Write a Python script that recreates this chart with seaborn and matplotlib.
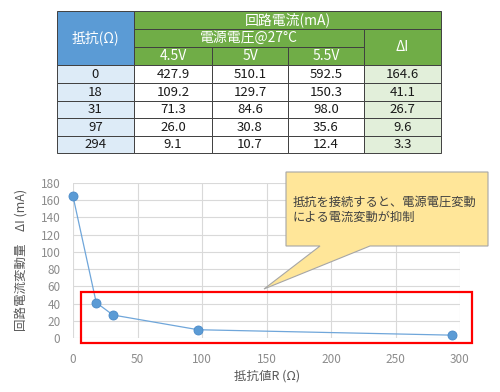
import matplotlib
matplotlib.use("Agg")
import matplotlib.pyplot as plt
from matplotlib.patches import Rectangle, Polygon
import seaborn as sns
import pandas as pd

# ---- data ----
resistance = [0, 18, 31, 97, 294]
i_45v = [427.9, 109.2, 71.3, 26.0, 9.1]
i_5v = [510.1, 129.7, 84.6, 30.8, 10.7]
i_55v = [592.5, 150.3, 98.0, 35.6, 12.4]
delta_i = [164.6, 41.1, 26.7, 9.6, 3.3]
voltage_labels = ["4.5V", "5V", "5.5V"]
x_ticks = [0, 50, 100, 150, 200, 250, 300]
y_ticks = [0, 20, 40, 60, 80, 100, 120, 140, 160, 180]
callout_text = "抵抗を接続すると、電源電圧変動\nによる電流変動が抑制"

sns.set_theme(style="white")
plt.rcParams['font.family'] = ['Noto Sans CJK JP', 'DejaVu Sans']

W, H = 500, 392
fig = plt.figure(figsize=(W / 100, H / 100), dpi=100)
fig.patch.set_facecolor("white")

# ---- chart ----
ax = fig.add_axes([73 / W, 1 - 338 / H, (460 - 73) / W, (338 - 183) / H])
df = pd.DataFrame({"R": resistance, "dI": delta_i})
sns.lineplot(data=df, x="R", y="dI", ax=ax, color="#6FA6DA", linewidth=0.9,
             marker="o", markersize=6.5, markerfacecolor="#5B9BD5",
             markeredgecolor="#4A8AC8", markeredgewidth=0.6,
             clip_on=False, zorder=5)
ax.set_xlim(0, 300)
ax.set_ylim(0, 180)
ax.set_xticks(x_ticks)
ax.set_yticks(y_ticks)
ax.grid(True, color="#D9D9D9", linewidth=0.8)
for s in ax.spines.values():
    s.set_visible(False)
ax.tick_params(axis="both", colors="#8C8C8C", labelsize=8.5, length=0)
ax.tick_params(axis="x", pad=11)
ax.tick_params(axis="y", pad=9)
ax.set_xlabel("抵抗値R (Ω)", fontsize=9, color="#595959")
ax.set_ylabel("回路電流変動量　ΔI (mA)", fontsize=9, color="#595959")
ax.xaxis.set_label_coords((267 - 73) / (460 - 73), -(370 - 338) / (338 - 183))
ax.yaxis.set_label_coords(-(73 - 29) / (460 - 73), (338 - 260) / (338 - 183))

# red highlight box (data coords)
ax.add_patch(Rectangle((6.2, -5.8), 309 - 6.2, 53 + 5.8, fill=False,
                       edgecolor="#FF0000", linewidth=1.6, clip_on=False, zorder=6))

# ---- overlay (pixel coords) for table and callout ----
ov = fig.add_axes([0, 0, 1, 1], zorder=10)
ov.set_xlim(0, W)
ov.set_ylim(H, 0)
ov.axis("off")
ov.patch.set_alpha(0)

edge = "#404040"


def cell(x0, y0, x1, y1, fc, text="", tc="black", fs=9.5):
    ov.add_patch(Rectangle((x0, y0), x1 - x0, y1 - y0, facecolor=fc,
                           edgecolor=edge, linewidth=0.7))
    if text:
        ov.text((x0 + x1) / 2, (y0 + y1) / 2, text, ha="center", va="center",
                fontsize=fs, color=tc)


cols = [57, 134, 212, 288, 364, 441]
hrows = [11, 29, 47, 65]
drows = [65, 83, 101, 118, 136, 153]
blue, green = "#5B9BD5", "#70AD47"
lblue, lgreen = "#DDEBF7", "#E2EFDA"

cell(cols[0], hrows[0], cols[1], hrows[3], blue, "抵抗(Ω)", "white", 10)
cell(cols[1], hrows[0], cols[5], hrows[1], green, "回路電流(mA)", "white", 10)
cell(cols[1], hrows[1], cols[4], hrows[2], green, "電源電圧@27°C", "white", 10)
cell(cols[4], hrows[1], cols[5], hrows[3], green, "ΔI", "white", 10)
for k, lab in enumerate(voltage_labels):
    cell(cols[1 + k], hrows[2], cols[2 + k], hrows[3], green, lab, "white", 10)

for r in range(len(resistance)):
    y0, y1 = drows[r], drows[r + 1]
    cell(cols[0], y0, cols[1], y1, lblue, f"{resistance[r]}", "#1a1a1a")
    cell(cols[1], y0, cols[2], y1, "white", f"{i_45v[r]:.1f}", "#1a1a1a")
    cell(cols[2], y0, cols[3], y1, "white", f"{i_5v[r]:.1f}", "#1a1a1a")
    cell(cols[3], y0, cols[4], y1, "white", f"{i_55v[r]:.1f}", "#1a1a1a")
    cell(cols[4], y0, cols[5], y1, lgreen, f"{delta_i[r]:.1f}", "#1a1a1a")

# callout
callout = Polygon([(286, 172), (488, 172), (488, 246), (370, 246), (264, 289),
                   (320, 246), (286, 246)], closed=True, facecolor="#FFE699",
                  edgecolor="#A6A6A6", linewidth=0.8)
ov.add_patch(callout)
ov.text(293, 209.5, callout_text, ha="left", va="center", fontsize=8.8,
        color="#404040", linespacing=1.25)

fig.savefig("out.png", dpi=100)
